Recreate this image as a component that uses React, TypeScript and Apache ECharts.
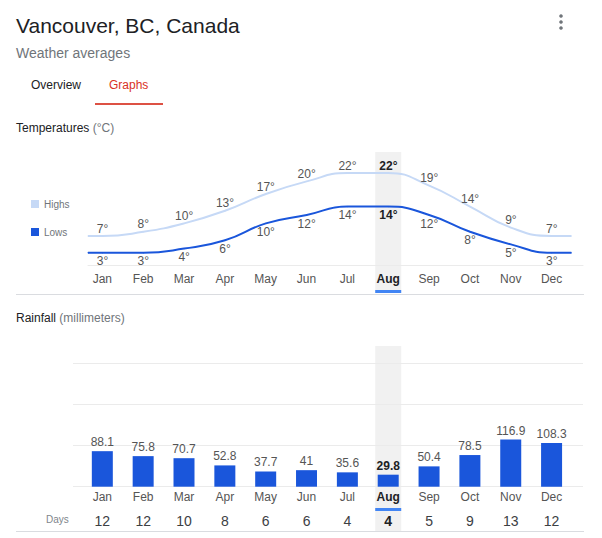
import React, { useEffect, useRef } from "react";
import * as echarts from "echarts";

const MONTHS = ["Jan", "Feb", "Mar", "Apr", "May", "Jun", "Jul", "Aug", "Sep", "Oct", "Nov", "Dec"];
const HIGHS = [7, 8, 10, 13, 17, 20, 22, 22, 19, 14, 9, 7];
const LOWS = [3, 3, 4, 6, 10, 12, 14, 14, 12, 8, 5, 3];
const RAINFALL = [88.1, 75.8, 70.7, 52.8, 37.7, 41, 35.6, 29.8, 50.4, 78.5, 116.9, 108.3];
const RAIN_DAYS = [12, 12, 10, 8, 6, 6, 4, 4, 5, 9, 13, 12];
const SELECTED = 7;

const FONT = "'Liberation Sans', Arial, sans-serif";
const LOW_COLOR = "#1a56db";
const HIGH_COLOR = "#c6d9f6";
const BAR_COLOR = "#1a56db";
const ACCENT = "#4285f4";
const TEXT = "#202124";
const SUB = "#70757a";
const LABEL = "#555555";
const GRID = "#ebebeb";

// line x-extent (in month-index units) for the flat lead-in / lead-out
const LINE_X_MIN = -0.355;
const LINE_X_MAX = 11.766;
const LINE_END = 11.48;

function lineData(values: number[]) {
  const pts: any[] = [];
  pts.push({ value: [LINE_X_MIN, values[0]], label: { show: false } });
  values.forEach((v, i) => {
    const item: any = { value: [i, v] };
    if (i === SELECTED) item.label = { fontWeight: "bold", color: TEXT };
    pts.push(item);
  });
  pts.push({ value: [LINE_END, values[values.length - 1]], label: { show: false } });
  return pts;
}

function monthFormatter(v: string, i: number) {
  return i === SELECTED ? `{b|${v}}` : `{n|${v}}`;
}

export default function App() {
  const ref = useRef<HTMLDivElement>(null);
  useEffect(() => {
    if (!ref.current) return;
    const chart = echarts.init(ref.current, null, { renderer: "svg" });
    const monthRich = {
      n: { fontSize: 12, color: LABEL, fontFamily: FONT },
      b: { fontSize: 12, color: TEXT, fontWeight: "bold", fontFamily: FONT },
    };
    const option: any = {
      animation: false,
      backgroundColor: "#ffffff",
      textStyle: { fontFamily: FONT },
      legend: {
        data: ["Highs", "Lows"],
        orient: "vertical",
        left: 26,
        top: 194,
        itemGap: 18,
        itemWidth: 8,
        itemHeight: 8,
        icon: "rect",
        selectedMode: false,
        textStyle: { fontSize: 10, color: SUB, fontFamily: FONT },
      },
      grid: [
        { left: 88, top: 160.4, width: 495, height: 105 },
        { left: 81.9, top: 160.4, width: 490.1, height: 105 },
        { left: 81.9, top: 363.3, width: 490.1, height: 123.4 },
        { left: 73, top: 363.3, width: 510, height: 123.4 },
      ],
      xAxis: [
        {
          gridIndex: 0, type: "value", min: LINE_X_MIN, max: LINE_X_MAX, offset: 5,
          axisLine: { show: true, lineStyle: { color: GRID } },
          axisTick: { show: false }, axisLabel: { show: false }, splitLine: { show: false },
        },
        {
          gridIndex: 1, type: "category", data: MONTHS,
          axisLine: { show: false }, axisTick: { show: false },
          axisLabel: { margin: 8, interval: 0, formatter: monthFormatter, rich: monthRich },
        },
        {
          gridIndex: 2, type: "category", data: MONTHS,
          axisLine: { show: false }, axisTick: { show: false },
          axisLabel: { margin: 4, interval: 0, formatter: monthFormatter, rich: monthRich },
        },
        {
          gridIndex: 2, type: "category", data: MONTHS, position: "bottom", offset: 23,
          axisLine: { show: false }, axisTick: { show: false },
          axisLabel: {
            margin: 4, interval: 0,
            formatter: (_v: string, i: number) => (i === SELECTED ? `{b|${RAIN_DAYS[i]}}` : `{n|${RAIN_DAYS[i]}}`),
            rich: {
              n: { fontSize: 14, color: "#3c4043", fontFamily: FONT },
              b: { fontSize: 14, color: TEXT, fontWeight: "bold", fontFamily: FONT },
            },
          },
        },
        { gridIndex: 3, type: "value", min: 0, max: 1, show: false },
      ],
      yAxis: [
        { gridIndex: 0, type: "value", min: 0, max: 25, show: false },
        { gridIndex: 1, type: "value", min: 0, max: 1, show: false },
        { gridIndex: 2, type: "value", min: 0, max: 306, show: false },
        {
          gridIndex: 3, type: "value", min: 0, max: 306, interval: 102,
          axisLine: { show: false }, axisTick: { show: false }, axisLabel: { show: false },
          splitLine: { show: true, lineStyle: { color: GRID, width: 1 } },
        },
      ],
      series: [
        {
          name: "Highs", type: "line", xAxisIndex: 0, yAxisIndex: 0,
          data: lineData(HIGHS), smooth: 0.5,
          symbol: "circle", symbolSize: 1, showAllSymbol: true,
          lineStyle: { color: HIGH_COLOR, width: 2 },
          itemStyle: { color: HIGH_COLOR },
          label: {
            show: true, position: "top", distance: 1, fontSize: 12, color: LABEL,
            formatter: (p: any) => `${p.value[1]}°`,
          },
          z: 3,
        },
        {
          name: "Lows", type: "line", xAxisIndex: 0, yAxisIndex: 0,
          data: lineData(LOWS), smooth: 0.5,
          symbol: "circle", symbolSize: 1, showAllSymbol: true,
          lineStyle: { color: LOW_COLOR, width: 2 },
          itemStyle: { color: LOW_COLOR },
          label: {
            show: true, position: "bottom", distance: 2, fontSize: 12, color: LABEL,
            formatter: (p: any) => `${p.value[1]}°`,
          },
          z: 4,
        },
        {
          name: "Rainfall", type: "bar", xAxisIndex: 2, yAxisIndex: 2,
          barWidth: 21,
          data: RAINFALL.map((v, i) =>
            i === SELECTED ? { value: v, label: { fontWeight: "bold", color: TEXT } } : v
          ),
          itemStyle: { color: BAR_COLOR },
          label: { show: true, position: "top", distance: 3, fontSize: 12, color: LABEL },
        },
      ],
    };
    chart.setOption(option);

    const topX = chart.convertToPixel({ xAxisIndex: 1 }, MONTHS[SELECTED]) as number;
    const botX = chart.convertToPixel({ xAxisIndex: 2 }, MONTHS[SELECTED]) as number;
    const BW = 26;

    const graphic: any[] = [
      { type: "text", x: 16, y: 25, style: { text: "Vancouver, BC, Canada", fontSize: 21, fontFamily: FONT, fill: TEXT, verticalAlign: "middle" } },
      { type: "circle", shape: { cx: 561, cy: 16, r: 1.8 }, style: { fill: "#70757a" } },
      { type: "circle", shape: { cx: 561, cy: 22, r: 1.8 }, style: { fill: "#70757a" } },
      { type: "circle", shape: { cx: 561, cy: 28, r: 1.8 }, style: { fill: "#70757a" } },
      { type: "text", x: 16, y: 53, style: { text: "Weather averages", fontSize: 14, fontFamily: FONT, fill: SUB, verticalAlign: "middle" } },
      { type: "text", x: 31, y: 85, style: { text: "Overview", fontSize: 12, fontFamily: FONT, fill: TEXT, verticalAlign: "middle" } },
      { type: "text", x: 109, y: 85, style: { text: "Graphs", fontSize: 12, fontFamily: FONT, fill: "#d93025", verticalAlign: "middle" } },
      { type: "rect", shape: { x: 95, y: 103, width: 68, height: 2 }, style: { fill: "#dd5144" } },
      {
        type: "text", x: 16, y: 128,
        style: {
          text: "{a|Temperatures} {b|(°C)}", verticalAlign: "middle",
          rich: { a: { fontSize: 12, fontFamily: FONT, fill: TEXT, color: TEXT }, b: { fontSize: 12, fontFamily: FONT, fill: SUB, color: SUB } },
        },
      },
      {
        type: "text", x: 16, y: 318,
        style: {
          text: "{a|Rainfall} {b|(millimeters)}", verticalAlign: "middle",
          rich: { a: { fontSize: 12, fontFamily: FONT, fill: TEXT, color: TEXT }, b: { fontSize: 12, fontFamily: FONT, fill: SUB, color: SUB } },
        },
      },
      { type: "text", x: 46, y: 519, style: { text: "Days", fontSize: 10, fontFamily: FONT, fill: "#80868b", verticalAlign: "middle" } },
      // selected-month highlight bands
      { type: "rect", z: -1, shape: { x: topX - BW / 2, y: 152, width: BW, height: 141 }, style: { fill: "#f1f1f1" } },
      { type: "rect", z: -1, shape: { x: botX - BW / 2, y: 346, width: BW, height: 185 }, style: { fill: "#f1f1f1" } },
      { type: "rect", shape: { x: topX - BW / 2, y: 290, width: BW, height: 3 }, style: { fill: ACCENT } },
      { type: "rect", shape: { x: botX - BW / 2, y: 508, width: BW, height: 3 }, style: { fill: ACCENT } },
      // dividers
      { type: "rect", shape: { x: 16, y: 294, width: 568, height: 1 }, style: { fill: "#dadce0" } },
      { type: "rect", shape: { x: 16, y: 531, width: 568, height: 1 }, style: { fill: "#dadce0" } },
    ];
    chart.setOption({ graphic: graphic });

    return () => chart.dispose();
  }, []);
  return (
    <div
      ref={ref}
      style={{ position: "fixed", left: 0, top: 0, width: 602, height: 538, background: "#fff" }}
    />
  );
}
